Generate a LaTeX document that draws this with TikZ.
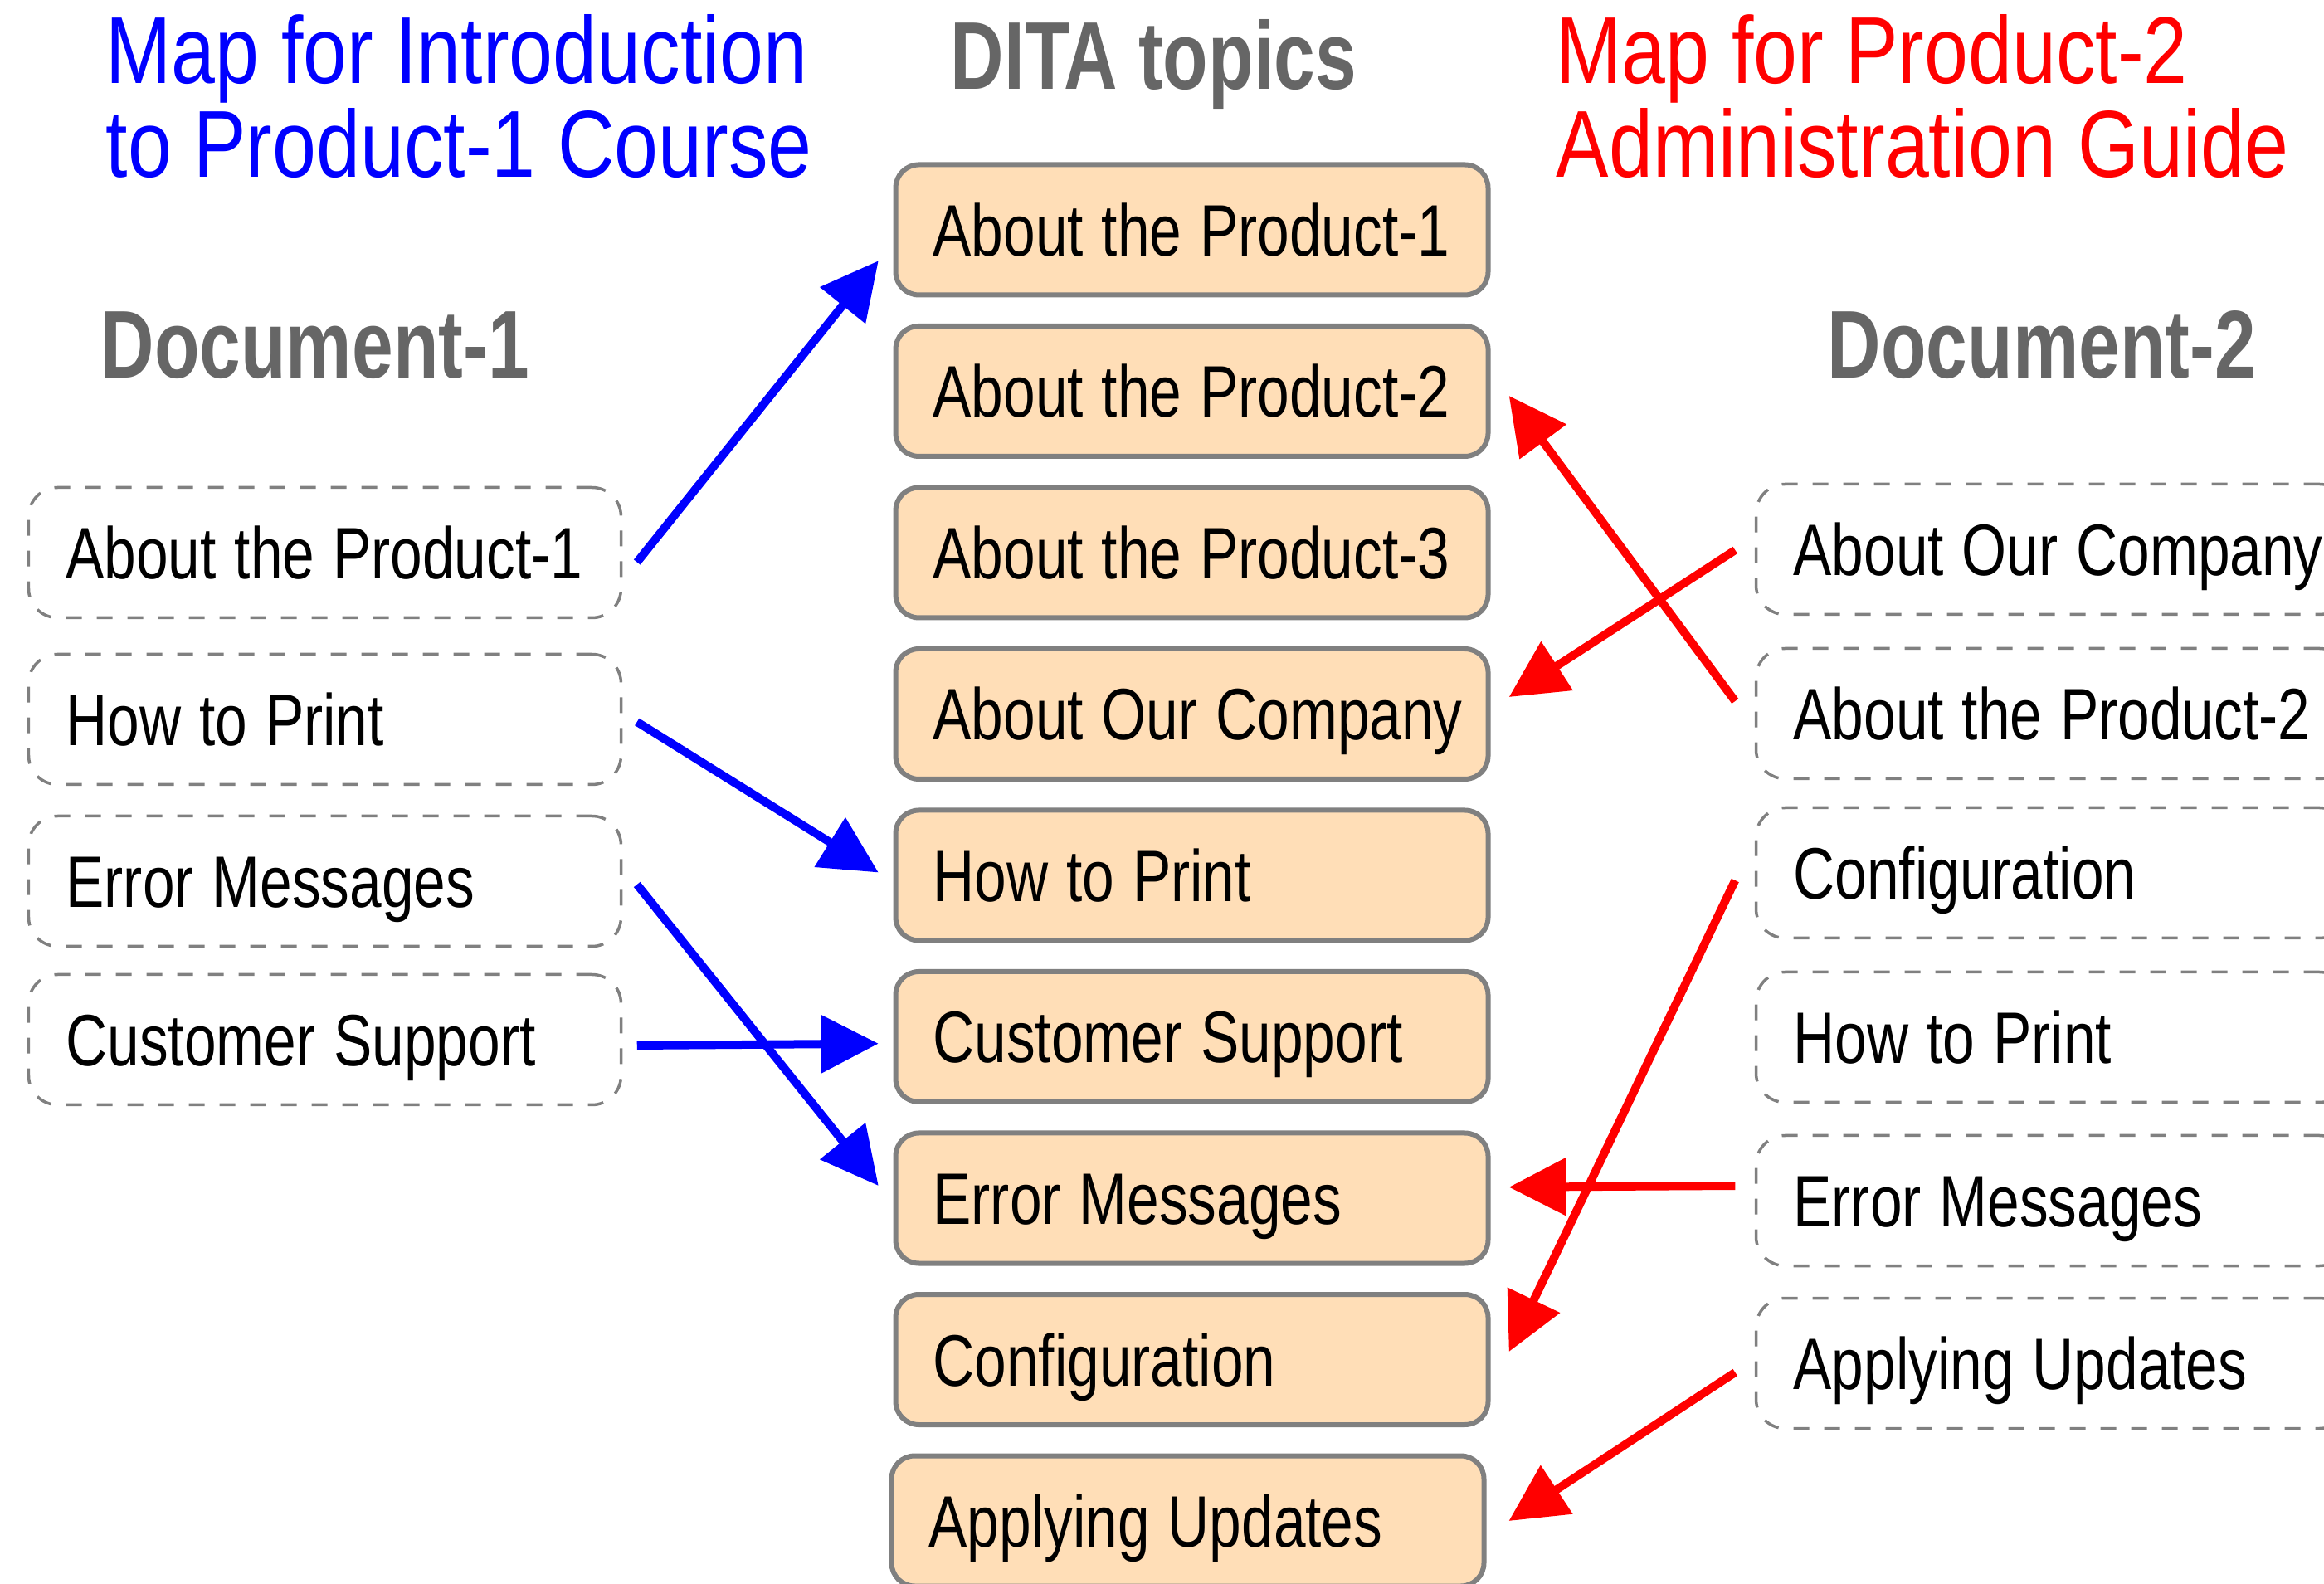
\documentclass[tikz,border=0pt]{standalone}
\usepackage{fontspec}
\setmainfont{Liberation Sans}[FakeStretch=0.79]
\newfontfamily\titlefont{Liberation Sans}[FakeStretch=0.83]
\newfontfamily\headfont{Liberation Sans}[FakeStretch=0.77]
\usepackage{tikz}
\usetikzlibrary{calc,arrows.meta}

\definecolor{topicfill}{RGB}{255,222,183}
\definecolor{boxgray}{RGB}{128,128,128}
\definecolor{headgray}{RGB}{102,102,102}

\begin{document}
\begin{tikzpicture}[
  topic/.style={draw=boxgray, line width=0.06cm, fill=topicfill, rounded corners=0.28cm,
    minimum width=7.14cm, minimum height=1.57cm, text width=6.64cm, inner xsep=0.25cm,
    align=left, text height=0.63cm, text depth=0cm,
    execute at begin node={\spaceskip=0.22cm\relax\noindent\hspace*{0.2cm}\hbox\bgroup},
    execute at end node={\egroup},
    font=\fontsize{25}{30}\selectfont},
  docref/.style={topic, draw=boxgray, line width=0.035cm, fill=none, rounded corners=0.35cm,
    dash pattern=on 0.19cm off 0.18cm},
  maptitle/.style={font=\titlefont\fontsize{32.6}{32.15}\selectfont, align=left,
    inner sep=0, anchor=north west},
  header/.style={font=\headfont\bfseries\fontsize{33}{36}\selectfont, text=headgray,
    inner sep=0, anchor=base west},
  bluelink/.style={draw=blue, line width=0.1cm, -{Triangle[length=0.69cm,width=0.68cm]}},
  redlink/.style={draw=red, line width=0.1cm, -{Triangle[length=0.69cm,width=0.68cm]}}
]

\useasboundingbox (0,0) rectangle (28.01,19.08);

%Drawing titles
\node[maptitle, text=blue] (map1) at (1.27,18.916) {Map for Introduction\\to Product-1 Course};
\node[maptitle, text=red] (map2) at (18.75,18.916) {Map for Product-2\\Administration Guide};
\node[header] (dita) at (11.45,18.007) {DITA topics};
\node[header] (doc1) at (1.21,14.52) {Document-1};
\node[header] (doc2) at (22.02,14.52) {Document-2};


%DITA topics
\node[topic] (c1) at (14.365,16.31) {About the Product-1};
\node[topic] (c2) at (14.365,14.365) {About the Product-2};
\node[topic] (c3) at (14.365,12.42) {About the Product-3};
\node[topic] (c4) at (14.365,10.475) {About Our Company};
\node[topic] (c5) at (14.365,8.53) {How to Print};
\node[topic] (c6) at (14.365,6.585) {Customer Support};
\node[topic] (c7) at (14.365,4.64) {Error Messages};
\node[topic] (c8) at (14.365,2.695) {Configuration};
\node[topic] (c9) at (14.315,0.75) {Applying Updates};


%Document-1
\node[docref] (l1) at (3.915,12.42) {About the Product-1};
\node[docref] (l2) at (3.915,10.41) {How to Print};
\node[docref] (l3) at (3.915,8.46) {Error Messages};
\node[docref] (l4) at (3.915,6.55) {Customer Support};


%Document-2
\node[docref] (r1) at (24.735,12.46) {About Our Company};
\node[docref] (r2) at (24.735,10.48) {About the Product-2};
\node[docref] (r3) at (24.735,8.56) {Configuration};
\node[docref] (r4) at (24.735,6.58) {How to Print};
\node[docref] (r5) at (24.735,4.61) {Error Messages};
\node[docref] (r6) at (24.735,2.65) {Applying Updates};


%connecting Document-1
\draw[bluelink] ($(l1.east)+(0.175,-0.115)$) -- ($(c1.west)+(-0.178,-0.373)$);
\draw[bluelink] ($(l2.east)+(0.175,-0.03)$) -- ($(c5.west)+(-0.178,0.035)$);
\draw[bluelink] ($(l3.east)+(0.175,-0.04)$) -- ($(c7.west)+(-0.178,0.15)$);
\draw[bluelink] ($(l4.east)+(0.175,-0.07)$) -- ($(c6.west)+(-0.178,-0.082)$);


%connecting Document-2
\draw[redlink] ($(r2.west)+(-0.235,0.15)$) -- ($(c2.east)+(0.222,-0.055)$);
\draw[redlink] ($(r1.west)+(-0.235,-0.01)$) -- ($(c4.east)+(0.222,0.205)$);
\draw[redlink] ($(r3.west)+(-0.235,-0.09)$) -- ($(c8.east)+(0.222,0.095)$);
\draw[redlink] ($(r5.west)+(-0.235,0.18)$) -- ($(c7.east)+(0.222,0.133)$);
\draw[redlink] ($(r6.west)+(-0.235,-0.11)$) -- ($(c9.east)+(0.27,0)$);

\end{tikzpicture}
\end{document}
